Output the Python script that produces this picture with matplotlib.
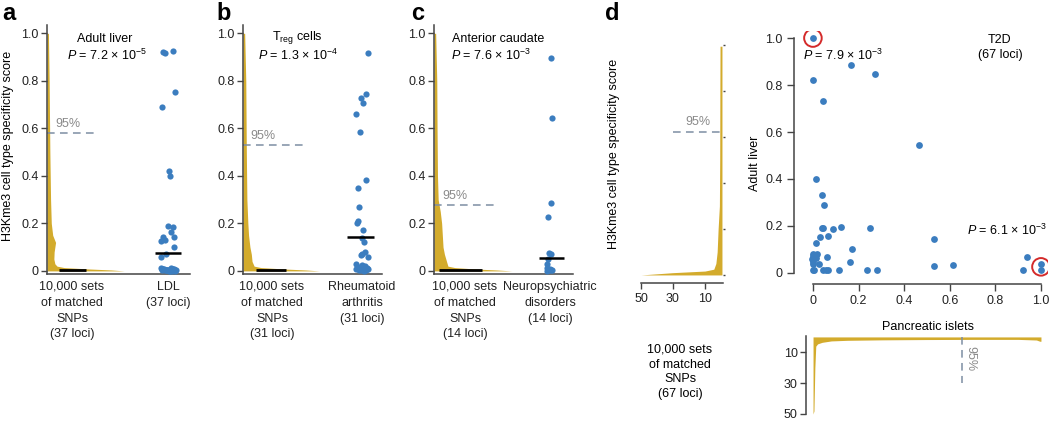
import numpy as np
import matplotlib.pyplot as plt

plt.rcParams['font.family'] = ['Liberation Sans', 'DejaVu Sans']
plt.rcParams['mathtext.fontset'] = 'custom'
plt.rcParams['mathtext.rm'] = 'Liberation Sans'
plt.rcParams['mathtext.it'] = 'Liberation Sans:italic'
plt.rcParams['font.size'] = 9
plt.rcParams['axes.edgecolor'] = '#444444'
plt.rcParams['xtick.color'] = '#444444'
plt.rcParams['ytick.color'] = '#444444'
plt.rcParams['xtick.labelcolor'] = '#222222'
plt.rcParams['ytick.labelcolor'] = '#222222'

gold = '#d3ab2c'
blue = '#3b7dbf'
dash_c = '#7d8ea3'
grey_t = '#8a8a8a'

# ---------------- panels a-c ----------------
# profile of the 10,000 matched sets (score vs. relative width)
prof_y_a = [0, 0.004, 0.008, 0.014, 0.02, 0.03, 0.05, 0.08, 0.12, 0.15, 0.2, 0.3, 0.5, 0.8, 1.0]
prof_w_a = [0.54, 0.45, 0.3, 0.12, 0.07, 0.055, 0.048, 0.05, 0.06, 0.04, 0.03, 0.025, 0.02, 0.015, 0.01]
prof_y_b = [0, 0.004, 0.008, 0.014, 0.02, 0.04, 0.07, 0.1, 0.15, 0.2, 0.3, 0.5, 0.8, 1.0]
prof_w_b = [0.55, 0.45, 0.3, 0.13, 0.08, 0.065, 0.06, 0.05, 0.04, 0.035, 0.028, 0.024, 0.02, 0.012]
prof_y_c = [0, 0.004, 0.008, 0.014, 0.02, 0.04, 0.07, 0.1, 0.15, 0.2, 0.25, 0.3, 0.4, 0.6, 0.8, 1.0]
prof_w_c = [0.56, 0.45, 0.3, 0.15, 0.1, 0.09, 0.075, 0.065, 0.06, 0.055, 0.045, 0.03, 0.025, 0.022, 0.02, 0.012]

# trait loci scores and their horizontal jitter
loci_a = [0.920, 0.916, 0.926, 0.754, 0.691, 0.421, 0.399, 0.188, 0.185, 0.165, 0.141, 0.127,
          0.130, 0.144, 0.102, 0.071, 0.060,
          0.012, 0.010, 0.008, 0.006, 0.005, 0.004, 0.003, 0.002, 0.001, 0.0,
          0.012, 0.010, 0.008, 0.006, 0.005, 0.004, 0.003, 0.002, 0.001, 0.0]
jit_a = [-0.035, -0.021, 0.035, 0.049, -0.042, 0.007, 0.014, 0.0, 0.035, 0.021, -0.035, -0.049,
         -0.021, 0.042, 0.042, -0.014, -0.049,
         -0.049, -0.042, -0.035, -0.028, -0.021, -0.014, -0.007, 0.0, 0.007, 0.014,
         0.021, 0.028, 0.035, 0.042, 0.049, 0.056, -0.045, -0.01, 0.025, 0.05]
loci_b = [0.919, 0.743, 0.729, 0.705, 0.660, 0.586, 0.382, 0.351, 0.270, 0.211, 0.202, 0.171,
          0.140, 0.122, 0.080, 0.072, 0.066, 0.059,
          0.03, 0.025, 0.02, 0.018, 0.012, 0.01, 0.008, 0.006, 0.005, 0.004, 0.003, 0.002, 0.0]
jit_b = [0.041, 0.027, -0.007, 0.01, -0.045, -0.017, 0.027, -0.029, -0.019, -0.029, -0.038, 0.01,
         -0.002, 0.017, 0.019, -0.002, -0.007, 0.041,
         -0.045, 0.0, 0.02, -0.03, 0.035, -0.015, 0.045, -0.04, 0.01, -0.025, 0.03, -0.005, 0.015]
loci_c = [0.897, 0.645, 0.284, 0.228, 0.077, 0.070, 0.050, 0.031, 0.012, 0.008, 0.005, 0.003, 0.002, 0.0]
jit_c = [0.01, 0.012, 0.005, -0.017, -0.007, 0.005, -0.012, -0.024, -0.02, 0.0, 0.015, -0.01, 0.008, -0.025]

# medians (black bars), 95% thresholds
set_line = [(0.084, 0.273), (0.094, 0.31), (0.036, 0.345)]
set_med = [0.004, 0.004, 0.004]
loci_med = [0.074, 0.143, 0.055]
loci_span = [(-0.09, 0.09), (-0.105, 0.09), (-0.08, 0.1)]
thr95 = [0.581, 0.532, 0.279]
thr95_len = [0.35, 0.453, 0.46]

cat_x = [(0.175, 0.846), (0.209, 0.856), (0.223, 0.835)]
cat_lab = [('10,000 sets\nof matched\nSNPs\n(37 loci)', 'LDL\n(37 loci)'),
           ('10,000 sets\nof matched\nSNPs\n(31 loci)', 'Rheumatoid\narthritis\n(31 loci)'),
           ('10,000 sets\nof matched\nSNPs\n(14 loci)', 'Neuropsychiatric\ndisorders\n(14 loci)')]
tissue = ['Adult liver', 'T$_{\\mathrm{reg}}$ cells', 'Anterior caudate']
pvals = ['$P$ = 7.2 × 10$^{-5}$', '$P$ = 1.3 × 10$^{-4}$', '$P$ = 7.6 × 10$^{-3}$']
letters = ['a', 'b', 'c']

# ---------------- panel d ----------------
dl_y = [0, 0.005, 0.01, 0.017, 0.025, 0.05, 0.1, 0.2, 0.3, 0.5, 0.8, 0.995]
dl_n = [50, 40, 30, 10, 4.5, 3.2, 2.4, 1.8, 1.0, 0.8, 0.7, 0.6]
dp_x = [0, 0.004, 0.008, 0.012, 0.02, 0.04, 0.08, 0.15, 0.3, 0.5, 0.7, 0.9, 0.98, 0.995, 1.0]
dp_d = [50, 48, 20, 6, 4.5, 3.5, 2.6, 2.2, 1.9, 1.7, 1.6, 1.6, 2.0, 2.8, 2.8]

islet = [0.0, 0.165, 0.274, 0.0, 0.044, 0.467, 0.015, 0.038, 0.05, 0.04, 0.044, 0.089, 0.123,
         0.251, 0.031, 0.066, 0.015, 0.53, 0.171, 0.0, 0.016, 0.0, -0.003, 0.012, 0.063, 0.001,
         0.0, 0.028, 0.162, 0.0, 0.006, 0.045, 0.056, 0.067, 0.114, 0.238, 0.282, 0.529, 0.616,
         0.94, 0.922, 1.0, 1.0]
liver = [1.0, 0.885, 0.845, 0.821, 0.733, 0.546, 0.40, 0.333, 0.288, 0.19, 0.193, 0.189, 0.194,
         0.191, 0.153, 0.157, 0.129, 0.144, 0.101, 0.08, 0.08, 0.072, 0.061, 0.065, 0.068, 0.048,
         0.04, 0.038, 0.045, 0.012, 0.012, 0.012, 0.012, 0.012, 0.012, 0.012, 0.012, 0.028, 0.033,
         0.068, 0.011, 0.038, 0.014]
circled_x = [0.0, 1.0]
circled_y = [1.0, 0.026]

W, H = 1050, 421
fig = plt.figure(figsize=(W / 100, H / 100), dpi=100)


def px_axes(l, t, r, b):
    return fig.add_axes([l / W, 1 - b / H, (r - l) / W, (b - t) / H])


lefts = [(47, 190), (243, 382), (434, 573)]
letter_x = [2, 216, 411]
title_base = [0.962, 0.972, 0.963]
for i in range(3):
    l, r = lefts[i]
    ax = px_axes(l, 25, r, 274)
    ax.set_xlim(0, 1)
    ax.set_ylim(-0.013, 1.035)
    py = [prof_y_a, prof_y_b, prof_y_c][i]
    pw = [prof_w_a, prof_w_b, prof_w_c][i]
    ax.fill_betweenx(py, 0, pw, color=gold, lw=0)
    ax.plot(set_line[i], [set_med[i]] * 2, color='black', lw=2, solid_capstyle='butt')
    ax.plot([0, thr95_len[i]], [thr95[i]] * 2, color=dash_c, lw=1.1, dashes=(5, 3.5))
    ax.text([0.056, 0.055, 0.063][i], thr95[i] + 0.012, '95%', color=grey_t,
            va='bottom', ha='left')
    vals = [loci_a, loci_b, loci_c][i]
    jit = [jit_a, jit_b, jit_c][i]
    cx = cat_x[i][1]
    ax.scatter(cx + np.array(jit), vals, s=20, color=blue, lw=0, zorder=3)
    ax.plot([cx + loci_span[i][0], cx + loci_span[i][1]], [loci_med[i]] * 2, color='black',
            lw=1.8, solid_capstyle='butt', zorder=4)
    ax.set_xticks(cat_x[i])
    ax.set_xticklabels(cat_lab[i], linespacing=1.42, va='top')
    ax.tick_params(axis='x', length=0, pad=5)
    ax.set_yticks([0, 0.2, 0.4, 0.6, 0.8, 1.0])
    ax.set_yticklabels(['0', '0.2', '0.4', '0.6', '0.8', '1.0'])
    ax.tick_params(axis='y', length=4.5, width=1, pad=1.5)
    for s in ['top', 'right']:
        ax.spines[s].set_visible(False)
    for s in ['left', 'bottom']:
        ax.spines[s].set_linewidth(1.1)
    if i < 2:
        tx = [0.406, 0.388][i]
        ax.text(tx, title_base[i], tissue[i], ha='center', va='baseline')
        ax.text(tx + 0.01, 0.887, pvals[i], ha='center', va='baseline')
    else:
        ax.text(0.13, title_base[i], tissue[i], ha='left', va='baseline')
        ax.text(0.122, 0.887, pvals[i], ha='left', va='baseline')
    fig.text(letter_x[i] / W, 1 - 20 / H, letters[i], fontsize=17, fontweight='bold', ha='left',
             va='baseline')

fig.text(8.5 / W, 1 - 146 / H, 'H3Kme3 cell type specificity score', rotation=90,
         ha='center', va='center')
fig.text(605 / W, 1 - 20 / H, 'd', fontsize=17, fontweight='bold', ha='left', va='baseline')

# d left: distribution of matched sets along liver score
dl = px_axes(641, 40, 722.6, 283)
dl.set_xlim(50, -1)
dl.set_ylim(-0.035, 1.022)
dl.fill_betweenx(dl_y, -0.6, dl_n, color=gold, lw=0)
dl.plot([30, 0], [0.623, 0.623], color=dash_c, lw=1.1, dashes=(5, 3.5))
dl.text(14.4, 0.665, '95%', color=grey_t, ha='center', va='center')
dl.set_xticks([50, 30, 10])
dl.tick_params(axis='x', length=4, width=1, pad=3)
dl.yaxis.tick_right()
dl.set_yticks([0, 0.2, 0.4, 0.6, 0.8, 1.0])
dl.tick_params(axis='y', right=True, left=False, labelright=False, length=1.5, width=1)
for s in ['top', 'right', 'left']:
    dl.spines[s].set_visible(False)
dl.spines['bottom'].set_linewidth(1.1)
fig.text(614 / W, 1 - 154 / H, 'H3Kme3 cell type specificity score', rotation=90,
         ha='center', va='center')
fig.text(680 / W, 1 - 372 / H, '10,000 sets\nof matched\nSNPs\n(67 loci)', ha='center',
         va='center', linespacing=1.33)

# d scatter
ds = px_axes(794, 31, 1047.8, 284)
ds.set_xlim(-0.083, 1.03)
ds.set_ylim(-0.047, 1.03)
ds.scatter(islet, liver, s=24, color=blue, lw=0, zorder=3)
ds.scatter(circled_x, circled_y, s=160, facecolors='none', edgecolors='#d42a2a', lw=1.4, zorder=4)
ds.set_xticks([0, 0.2, 0.4, 0.6, 0.8, 1.0])
ds.set_xticklabels(['0', '0.2', '0.4', '0.6', '0.8', '1.0'])
ds.set_yticks([0, 0.2, 0.4, 0.6, 0.8, 1.0])
ds.set_yticklabels(['0', '0.2', '0.4', '0.6', '0.8', '1.0'])
ds.tick_params(length=5, width=1, pad=3)
ds.spines['left'].set_bounds(0, 1)
ds.spines['bottom'].set_bounds(0, 1)
for s in ['top', 'right']:
    ds.spines[s].set_visible(False)
for s in ['left', 'bottom']:
    ds.spines[s].set_linewidth(1.1)
fig.text(755 / W, 1 - 163 / H, 'Adult liver', rotation=90, ha='center', va='center')
ds.text(0.82, 0.96, 'T2D\n(67 loci)', ha='center', va='center', linespacing=1.33)
ds.text(0.13, 0.928, '$P$ = 7.9 × 10$^{-3}$', ha='center', va='center')
ds.text(1.025, 0.183, '$P$ = 6.1 × 10$^{-3}$', ha='right', va='center')

# d bottom: distribution of matched sets along islet score
dp = px_axes(806.2, 336, 1047.8, 414)
dp.set_xlim(-0.03, 1.03)
dp.set_ylim(50, -0.6)
dp.fill_between(dp_x, 0, dp_d, color=gold, lw=0)
dp.plot([0.655, 0.655], [0, 30], color=dash_c, lw=1.1, dashes=(5, 3.5))
dp.text(0.69, 14, '95%', color=grey_t, rotation=270, ha='center', va='center')
dp.set_yticks([10, 30, 50])
dp.set_xticks([])
dp.tick_params(axis='y', length=4, width=1, pad=2)
for s in ['top', 'right', 'bottom']:
    dp.spines[s].set_visible(False)
dp.spines['left'].set_linewidth(1.1)
dp.text(0.504, 1.11, 'Pancreatic islets', transform=dp.transAxes, ha='center', va='center')

fig.savefig('out.png', dpi=100)
